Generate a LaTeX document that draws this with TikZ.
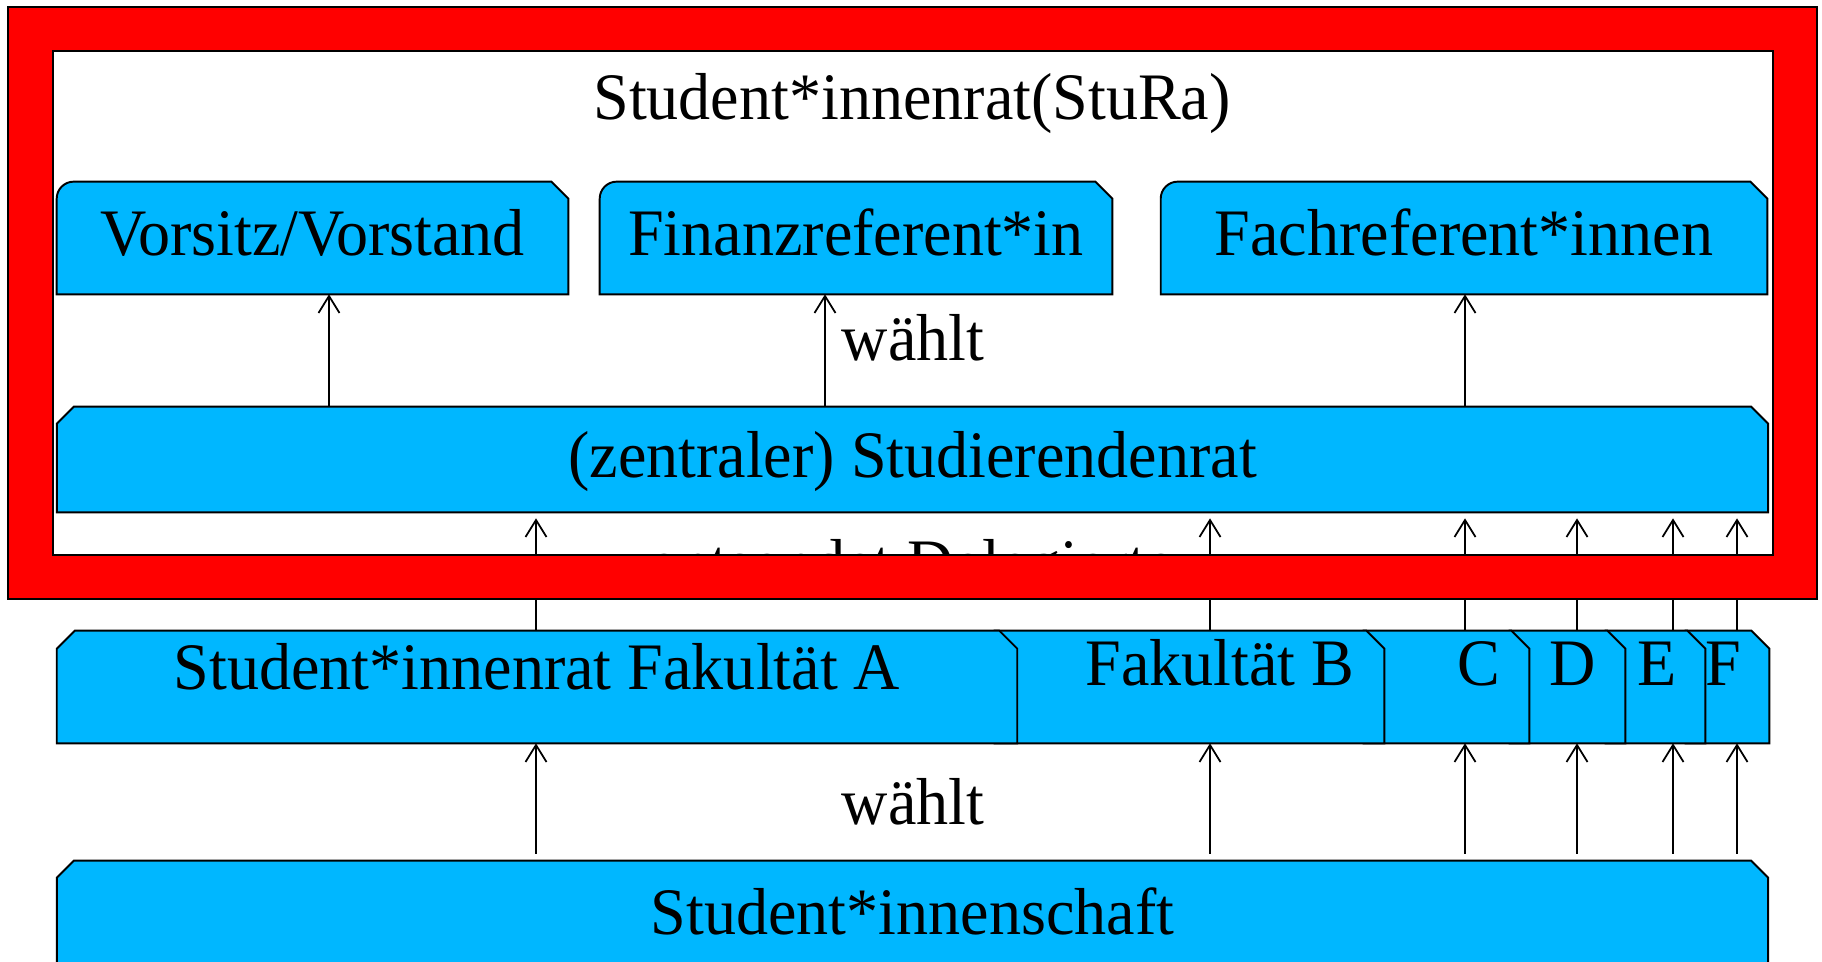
\documentclass[tikz,border=0pt]{standalone}
\usepackage{fontspec}
\setmainfont{Liberation Serif}[FakeStretch=0.965]
\usetikzlibrary{arrows.meta,backgrounds,calc}
\definecolor{boxblue}{RGB}{0,183,255}

\begin{document}
\begin{tikzpicture}[
    x=0.02cm, y=0.02cm,
    txt/.style={font=\fontsize{37.8}{45}\selectfont},
    frame/.style={txt, rectangle, inner sep=0pt, minimum height=2.24cm,
        text height=0.9cm, text depth=0.18cm},
    boxline/.style={draw, fill=boxblue, line width=1.1pt},
    arrow/.style={line width=1pt, -{Straight Barb[length=0.34cm,width=0.42cm]}}
]
    \clip (0,0) rectangle (1822,962);

    % StuRa
    \node[txt, anchor=base] (title) at (912,842) {Student*innenrat(StuRa)};
    \node[frame, minimum width=10.22cm] (vor) at (312.5,724) {Vorsitz/Vorstand};
    \node[frame, minimum width=10.24cm] (fin) at (856,724) {Finanzreferent*in};
    \node[frame, minimum width=12.12cm] (fach) at (1464,724) {Fachreferent*innen};
    \node[frame, minimum width=34.22cm, minimum height=2.1cm] (sr) at (912.5,502.5)
        {(zentraler) Studierendenrat};
    \node[txt, anchor=base] (w1) at (913,601) {wählt};

    % Fakultaeten
    \node[frame, minimum width=19.2cm] (fA) at (537,275) {};
    \node[frame, minimum width=7.78cm] (fB) at (1189.5,275) {};
    \node[frame, minimum width=3.3cm] (fC) at (1446.5,275) {};
    \node[frame, minimum width=2.3cm] (fD) at (1567.5,275) {};
    \node[frame, minimum width=1.98cm] (fE) at (1655.5,275) {};
    \node[frame, minimum width=1.66cm] (fF) at (1727.5,275) {};
    \node[txt, anchor=base] (tA) at (537,272) {Student*innenrat Fakultät A};
    \node[txt, anchor=base] (tB) at (1220,276) {Fakultät B};
    \node[txt, anchor=base] (tC) at (1479,276) {C};
    \node[txt, anchor=base] (tD) at (1573,276) {D};
    \node[txt, anchor=base] (tE) at (1657,276) {E};
    \node[txt, anchor=base] (tF) at (1723,276) {F};

    \node[txt, anchor=base] (w2) at (913,137) {wählt};
    \node[frame, minimum width=34.22cm] (ss) at (912.5,45) {Student*innenschaft};

    % liegt hinter dem Rahmen
    \begin{scope}
        \clip (53,407) rectangle (1773,911);
        \node[txt, anchor=base] (del) at (912,376) {entsendet Delegierte};
    \end{scope}

    \begin{scope}[on background layer]
        \fill[white] (0,0) rectangle (1822,962);
        % oben links rund, oben rechts abgeschraegt
        \foreach \n in {vor,fin,fach}
            \filldraw[boxline] (\n.south west) -- ($(\n.north west)+(0,-17)$)
                arc[start angle=180, end angle=90, radius=0.34cm]
                -- ($(\n.north east)+(-17,0)$) -- ($(\n.north east)+(0,-17)$)
                -- (\n.south east) -- cycle;
        % beide Ecken oben abgeschraegt
        \foreach \n in {sr,ss}
            \filldraw[boxline] (\n.south west) -- ($(\n.north west)+(0,-17)$)
                -- ($(\n.north west)+(17,0)$)
                -- ($(\n.north east)+(-17,0)$) -- ($(\n.north east)+(0,-17)$)
                -- (\n.south east) -- cycle;
        % hinten nach vorne
        \foreach \n in {fF,fE,fD,fC,fB}
            \filldraw[boxline] (\n.south west) -- (\n.north west)
                -- ($(\n.north east)+(-18,0)$) -- ($(\n.north east)+(0,-18)$)
                -- (\n.south east) -- cycle;
        \filldraw[boxline] (fA.south west) -- ($(fA.north west)+(0,-18)$)
            -- ($(fA.north west)+(18,0)$)
            -- ($(fA.north east)+(-18,0)$) -- ($(fA.north east)+(0,-18)$)
            -- (fA.south east) -- cycle;
    \end{scope}

    % Pfeile
    \foreach \x/\f in {329/vor, 825/fin, 1465/fach}
        \draw[arrow] (sr.north -| \x,0) -- (\f.south -| \x,0);
    \foreach \x/\f in {536/fA, 1210/fB, 1465/fC, 1577/fD, 1673/fE, 1737/fF} {
        \draw[arrow, shorten <=0.14cm] (ss.north -| \x,0) -- (\f.south -| \x,0);
        \draw[arrow, shorten >=0.12cm] (\f.north -| \x,0) -- (sr.south -| \x,0);
    }

    % roter Rahmen
    \filldraw[fill=red, draw=black, line width=1.1pt, even odd rule]
        (8,363) rectangle (1817,955) (53,407) rectangle (1773,911);
\end{tikzpicture}
\end{document}
